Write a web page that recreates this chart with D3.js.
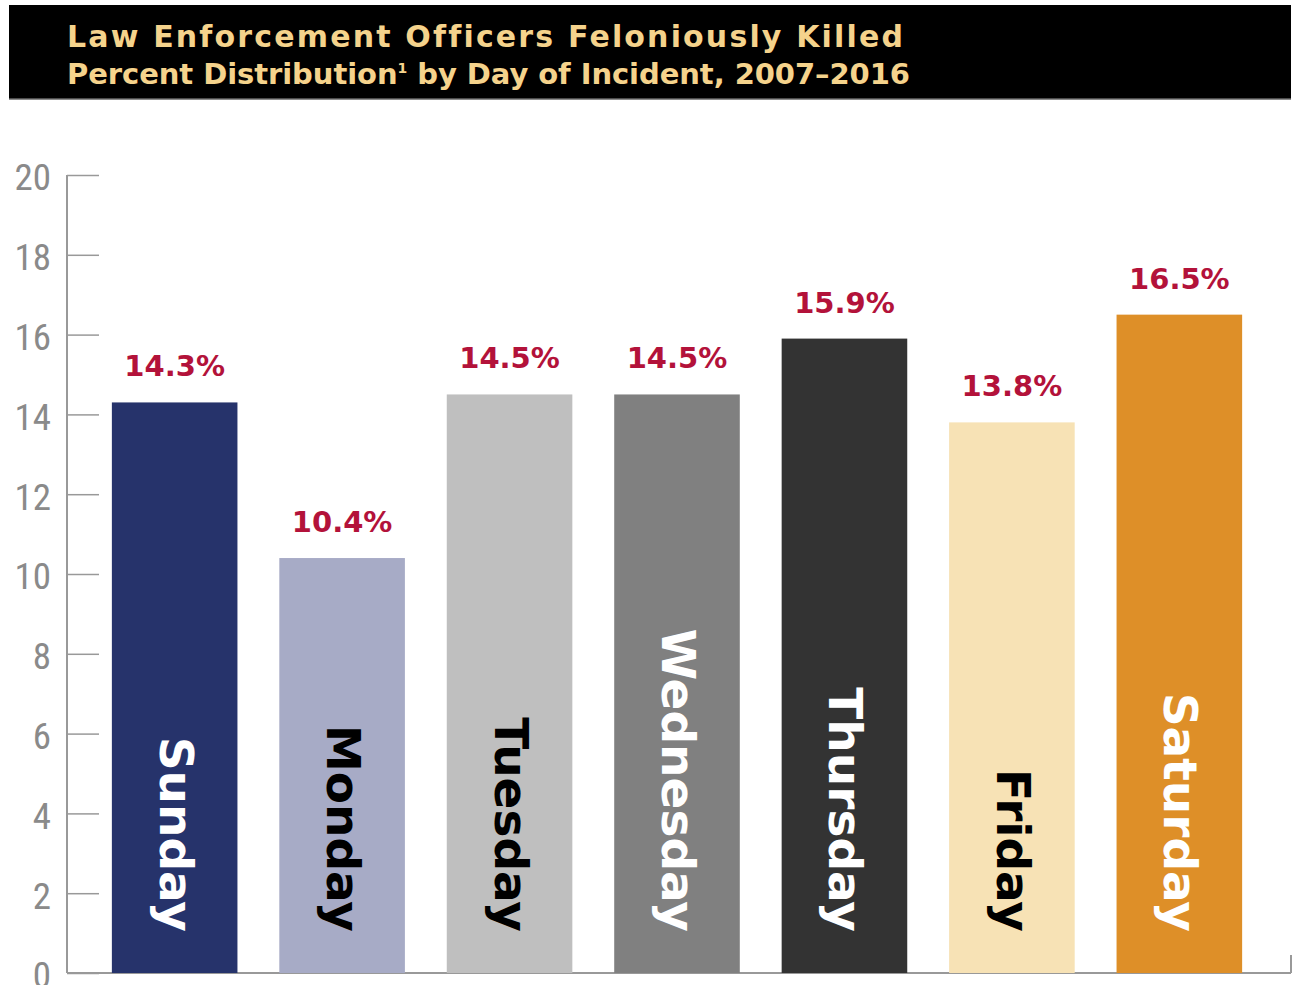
<!DOCTYPE html>
<html>
<head>
<meta charset="utf-8">
<script src="https://cdn.jsdelivr.net/npm/d3@7.9.0/dist/d3.min.js"></script>
<style>
  body { margin: 0; background: #fff; }
  svg { display: block; }
</style>
</head>
<body>
<div id="chart"></div>
<script>
// data
const days = ['Sunday', 'Monday', 'Tuesday', 'Wednesday', 'Thursday', 'Friday', 'Saturday'];
const percents = [14.3, 10.4, 14.5, 14.5, 15.9, 13.8, 16.5];
const barColors = ['#26336b', '#a7abc6', '#bfbfbf', '#808080', '#333333', '#f7e2b5', '#de8f28'];
const labelColors = ['#fff', '#000', '#000', '#fff', '#fff', '#000', '#fff'];
const yTicks = [0, 2, 4, 6, 8, 10, 12, 14, 16, 18, 20];
const titleLines = ['Law Enforcement Officers Feloniously Killed', 'Percent Distribution'];

const width = 1293;
const height = 985;

const svg = d3.select('#chart')
    .append('svg')
    .attr('width', width)
    .attr('height', height);

// stretch letter spacing so a text spans the wanted width
function fitWidth(sel, target) {
    const node = sel.node();
    const n = node.getNumberOfChars();
    const len = node.getComputedTextLength();
    sel.style('letter-spacing', ((target - len) / (n - 1)) + 'px');
}

// header
svg.append('rect')
    .attr('x', 9).attr('y', 5)
    .attr('width', 1282).attr('height', 94)
    .attr('fill', '#000');
svg.append('line')
    .attr('x1', 9).attr('x2', 1291)
    .attr('y1', 99).attr('y2', 99)
    .attr('stroke', '#666').attr('stroke-width', 1.5);

const boldFont = '"DejaVu Sans", Verdana, sans-serif';
const t1 = svg.append('text')
    .attr('x', 67).attr('y', 47)
    .attr('fill', '#f5d38c')
    .style('font-family', boldFont)
    .style('font-weight', 'bold')
    .style('font-size', '30px')
    .text(titleLines[0]);
fitWidth(t1, 833);

const sub = svg.append('text')
    .attr('x', 67).attr('y', 84)
    .attr('fill', '#f5d38c')
    .style('font-family', boldFont)
    .style('font-weight', 'bold')
    .style('font-size', '29px');
sub.append('tspan').text(titleLines[1]);
sub.append('tspan').attr('dy', -11).style('font-size', '14px').text('1');
sub.append('tspan').attr('dy', 11).text(' by Day of Incident, 2007\u20132016');
fitWidth(sub, 843);

// scales
const x = d3.scaleBand()
    .domain(days)
    .range([70, 1284])
    .paddingInner(0.25)
    .paddingOuter(0.25);

const y = d3.scaleLinear()
    .domain([0, 20])
    .range([973, 175]);

// y axis
const yAxis = svg.append('g')
    .attr('transform', 'translate(67,0)')
    .call(d3.axisRight(y).tickValues(yTicks).tickSize(32).tickFormat(''));
yAxis.select('.domain').remove();
yAxis.selectAll('.tick line').attr('stroke', '#999').attr('stroke-width', 1.5);

svg.append('line')
    .attr('x1', 67).attr('x2', 67)
    .attr('y1', y(20)).attr('y2', y(0))
    .attr('stroke', '#999').attr('stroke-width', 2);

svg.append('g')
    .selectAll('text')
    .data(yTicks)
    .join('text')
    .attr('x', 51)
    .attr('y', d => y(d) + 2)
    .attr('dy', '0.36em')
    .attr('text-anchor', 'end')
    .attr('fill', '#8a8a8a')
    .style('font-family', '"Liberation Sans Narrow", "Roboto Condensed", "DejaVu Sans Condensed", sans-serif')
    .style('font-size', '37px')
    .text(d => d);

// x baseline
svg.append('line')
    .attr('x1', 67).attr('x2', 1291)
    .attr('y1', y(0)).attr('y2', y(0))
    .attr('stroke', '#999').attr('stroke-width', 2);
svg.append('line')
    .attr('x1', 1291).attr('x2', 1291)
    .attr('y1', y(0) - 18).attr('y2', y(0))
    .attr('stroke', '#999').attr('stroke-width', 2);

// bars
svg.append('g')
    .selectAll('rect')
    .data(days)
    .join('rect')
    .attr('x', d => x(d))
    .attr('y', (d, i) => y(percents[i]))
    .attr('width', x.bandwidth())
    .attr('height', (d, i) => y(0) - y(percents[i]))
    .attr('fill', (d, i) => barColors[i]);

// value labels
svg.append('g')
    .selectAll('text')
    .data(days)
    .join('text')
    .attr('x', d => x(d) + x.bandwidth() / 2)
    .attr('y', (d, i) => y(percents[i]) - 26)
    .attr('text-anchor', 'middle')
    .attr('fill', '#b3123a')
    .style('font-family', boldFont)
    .style('font-weight', 'bold')
    .style('font-size', '29px')
    .text((d, i) => percents[i].toFixed(1) + '%');

// day labels, rotated inside bars
svg.append('g')
    .selectAll('text')
    .data(days)
    .join('text')
    .attr('transform', d => `translate(${x(d) + x.bandwidth() / 2 - 15},${y(0) - 41}) rotate(90)`)
    .attr('text-anchor', 'end')
    .attr('fill', (d, i) => labelColors[i])
    .style('font-family', boldFont)
    .style('font-weight', 'bold')
    .style('font-size', '47px')
    .text(d => d);
</script>
</body>
</html>
